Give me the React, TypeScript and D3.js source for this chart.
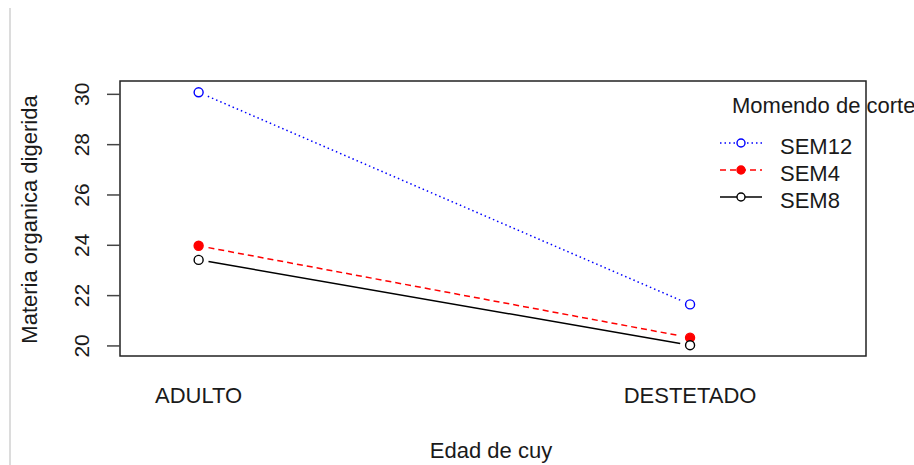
// App.tsx — interaction plot: materia organica digerida vs edad de cuy

import React from 'react';
import * as d3 from 'd3';

const categories = ['ADULTO', 'DESTETADO'];
const seriesNames = ['SEM12', 'SEM4', 'SEM8'];
const sem12 = [30.08, 21.65];
const sem4 = [23.98, 20.33];
const sem8 = [23.42, 20.03];
const yTicks = [20, 22, 24, 26, 28, 30];

const seriesValues = [sem12, sem4, sem8];
const seriesColor = ['#0000ff', '#ff0000', '#000000'];
const seriesDash = ['1.5 3', '6 4', null];
const seriesFilled = [false, true, false];

const W = 914;
const H = 465;
const box = { left: 120, right: 866, top: 81, bottom: 356 };
const FONT = '"Liberation Sans", Arial, sans-serif';

const App = () => {
  const x = d3
    .scaleLinear()
    .domain([0.84, 2.358])
    .range([box.left, box.right]);
  const y = d3
    .scaleLinear()
    .domain([19.6, 30.53])
    .range([box.bottom, box.top]);

  // type="b" style: segments stop short of the points
  const gap = 10;
  const segment = (vals) => {
    const x1 = x(1);
    const y1 = y(vals[0]);
    const x2 = x(2);
    const y2 = y(vals[1]);
    const len = Math.hypot(x2 - x1, y2 - y1);
    const ux = (x2 - x1) / len;
    const uy = (y2 - y1) / len;
    return {
      x1: x1 + ux * gap,
      y1: y1 + uy * gap,
      x2: x2 - ux * gap,
      y2: y2 - uy * gap,
    };
  };

  const legendX = 720;
  const legendRows = [143, 170, 197];

  return (
    <div style={{ position: 'absolute', left: 0, top: 0 }}>
      <svg width={W} height={H} style={{ display: 'block', background: '#fff' }}>
        <line x1={10} x2={10} y1={8} y2={H} stroke="#dcdcdc" strokeWidth={2} />

        {/* plot box */}
        <rect
          x={box.left}
          y={box.top}
          width={box.right - box.left}
          height={box.bottom - box.top}
          fill="none"
          stroke="#222"
          strokeWidth={1.5}
        />

        {/* y axis */}
        {yTicks.map((t) => (
          <g key={t}>
            <line
              x1={107}
              x2={box.left}
              y1={y(t)}
              y2={y(t)}
              stroke="#444"
              strokeWidth={1.5}
            />
            <text
              transform={`translate(89,${y(t)}) rotate(-90)`}
              textAnchor="middle"
              fontFamily={FONT}
              fontSize={21}
              fill="#1a1a1a"
            >
              {t}
            </text>
          </g>
        ))}
        <text
          transform={`translate(37,${(box.top + box.bottom) / 2 + 1}) rotate(-90)`}
          textAnchor="middle"
          fontFamily={FONT}
          fontSize={22}
          fill="#1a1a1a"
        >
          Materia organica digerida
        </text>

        {/* x labels */}
        {categories.map((c, i) => (
          <text
            key={c}
            x={x(i + 1)}
            y={403}
            textAnchor="middle"
            fontFamily={FONT}
            fontSize={22}
            fill="#1a1a1a"
          >
            {c}
          </text>
        ))}
        <text
          x={491}
          y={458}
          textAnchor="middle"
          fontFamily={FONT}
          fontSize={22}
          fill="#1a1a1a"
        >
          Edad de cuy
        </text>

        {/* series */}
        {seriesValues.map((vals, s) => {
          const seg = segment(vals);
          return (
            <g key={seriesNames[s]}>
              <line
                {...seg}
                stroke={seriesColor[s]}
                strokeWidth={1.5}
                strokeDasharray={seriesDash[s] || undefined}
              />
              {vals.map((v, i) => (
                <circle
                  key={i}
                  cx={x(i + 1)}
                  cy={y(v)}
                  r={4.5}
                  fill={seriesFilled[s] ? seriesColor[s] : '#fff'}
                  stroke={seriesColor[s]}
                  strokeWidth={1.4}
                />
              ))}
            </g>
          );
        })}

        {/* legend */}
        <text
          x={732}
          y={113}
          fontFamily={FONT}
          fontSize={22}
          fill="#1a1a1a"
        >
          Momendo de corte
        </text>
        {seriesNames.map((name, s) => (
          <g key={name}>
            <line
              x1={legendX}
              x2={legendX + 42}
              y1={legendRows[s]}
              y2={legendRows[s]}
              stroke={seriesColor[s]}
              strokeWidth={1.5}
              strokeDasharray={seriesDash[s] || undefined}
            />
            <circle
              cx={legendX + 21}
              cy={legendRows[s]}
              r={4}
              fill={seriesFilled[s] ? seriesColor[s] : '#fff'}
              stroke={seriesColor[s]}
              strokeWidth={1.4}
            />
            <text
              x={780}
              y={legendRows[s] + 10.5}
              fontFamily={FONT}
              fontSize={22}
              fill="#1a1a1a"
            >
              {name}
            </text>
          </g>
        ))}
      </svg>
    </div>
  );
};

export default App;
